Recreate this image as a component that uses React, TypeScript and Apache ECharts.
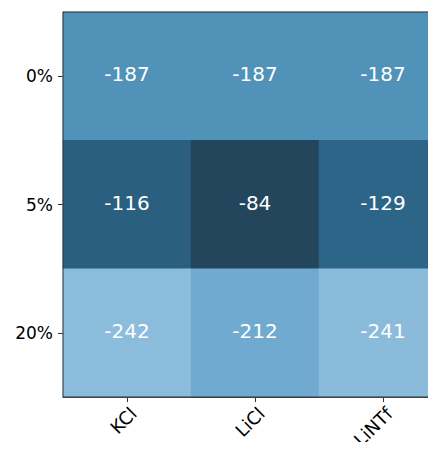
import React, { useEffect, useRef } from "react";
import * as echarts from "echarts";

const salts = ["KCl", "LiCl", "LiNTf"];
const concentrations = ["0%", "5%", "20%"];
// rows follow concentrations, columns follow salts
const values0 = [-187, -187, -187];
const values5 = [-116, -84, -129];
const values20 = [-242, -212, -241];

const anchors: [number, string][] = [
  [-242, "#8bbcdc"],
  [-212, "#70abd0"],
  [-187, "#5192b9"],
  [-129, "#2d6588"],
  [-116, "#2b5f80"],
  [-84, "#23465d"],
];

function hex(c: string) {
  return [1, 3, 5].map((i) => parseInt(c.slice(i, i + 2), 16));
}
function ramp(n: number): string[] {
  const lo = anchors[0][0];
  const hi = anchors[anchors.length - 1][0];
  const out: string[] = [];
  for (let k = 0; k < n; k++) {
    const v = lo + ((hi - lo) * k) / (n - 1);
    let j = 0;
    while (j < anchors.length - 2 && v > anchors[j + 1][0]) j++;
    const [v0, c0] = anchors[j];
    const [v1, c1] = anchors[j + 1];
    const t = Math.max(0, Math.min(1, (v - v0) / (v1 - v0)));
    const a = hex(c0);
    const b = hex(c1);
    const m = a.map((x, i) => Math.round(x + (b[i] - x) * t));
    out.push("rgb(" + m.join(",") + ")");
  }
  return out;
}

export default function App() {
  const ref = useRef<HTMLDivElement>(null);
  useEffect(() => {
    if (!ref.current) return;
    const chart = echarts.init(ref.current, undefined, { renderer: "svg" });
    const rows = [values0, values5, values20];
    const data: [number, number, number][] = [];
    rows.forEach((r, yi) => r.forEach((v, xi) => data.push([xi, yi, v])));
    const font = "DejaVu Sans";
    chart.setOption({
      animation: false,
      grid: {
        left: 63,
        top: 12,
        width: 384,
        height: 385,
        outerBoundsMode: "none",
        containLabel: false,
        show: true,
        borderColor: "#333",
        borderWidth: 1,
        backgroundColor: "transparent",
        z: 10,
      },
      xAxis: {
        type: "category",
        data: salts,
        axisLine: { show: true, lineStyle: { color: "#333", width: 1 } },
        axisTick: { show: true, alignWithLabel: true, length: 5, lineStyle: { color: "#333" } },
        axisLabel: {
          rotate: 45,
          align: "right",
          verticalAlign: "top",
          fontFamily: font,
          fontSize: 18,
          color: "#000",
          margin: 7,
        },
        splitLine: { show: false },
      },
      yAxis: {
        type: "category",
        data: concentrations,
        inverse: true,
        axisLine: { show: true, lineStyle: { color: "#333", width: 1 } },
        axisTick: { show: true, alignWithLabel: true, length: 5, lineStyle: { color: "#333" } },
        axisLabel: { fontFamily: font, fontSize: 17, color: "#000", margin: 10 },
        splitLine: { show: false },
      },
      visualMap: {
        show: false,
        type: "continuous",
        min: anchors[0][0],
        max: anchors[anchors.length - 1][0],
        dimension: 2,
        inRange: { color: ramp(41) },
      },
      series: [
        {
          type: "heatmap",
          data,
          label: {
            show: true,
            color: "#fff",
            fontFamily: font,
            fontSize: 20,
            offset: [0, -2],
          },
          itemStyle: { borderWidth: 0 },
        },
      ],
    });
    return () => chart.dispose();
  }, []);
  return <div ref={ref} style={{ width: 436, height: 450, margin: -8 }} />;
}
